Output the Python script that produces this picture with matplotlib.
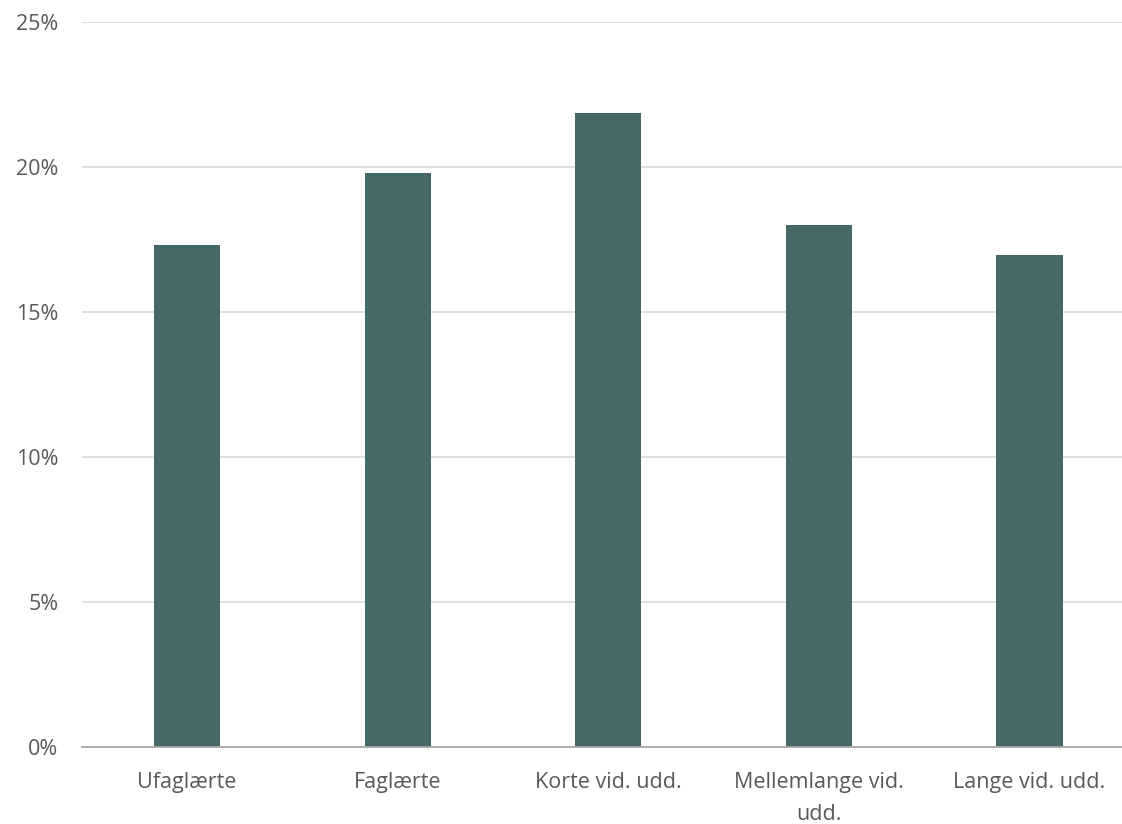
import numpy as np
import matplotlib.pyplot as plt
from matplotlib.ticker import PercentFormatter

plt.rcParams['font.family'] = ['Open Sans', 'DejaVu Sans']

categories = ['Ufaglærte', 'Faglærte', 'Korte vid. udd.', 'Mellemlange vid.\nudd.', 'Lange vid. udd.']
shares = [17.3, 19.8, 21.85, 18.0, 16.95]

bar_color = '#466866'
text_color = '#595959'

fig = plt.figure(figsize=(11.22, 8.24), dpi=100)
ax = fig.add_axes([0.073, 0.0934, 0.927, 0.88])

x = np.arange(len(categories))
ax.bar(x, shares, width=0.315, color=bar_color, zorder=3)

ax.set_ylim(0, 25)
ax.set_xlim(-0.5, 4.44)
ax.set_yticks(np.arange(0, 26, 5))
ax.yaxis.set_major_formatter(PercentFormatter(decimals=0))
ax.set_xticks(x)
ax.set_xticklabels(categories, linespacing=1.7)

ax.grid(axis='y', color='#d9d9d9', linewidth=1.2, zorder=0)
for s in ['top', 'right', 'left']:
    ax.spines[s].set_visible(False)
ax.spines['bottom'].set_color('#a6a6a6')
ax.spines['bottom'].set_linewidth(1.3)
ax.spines['bottom'].set_zorder(4)

ax.tick_params(axis='both', length=0, labelsize=15.5, colors=text_color)
ax.tick_params(axis='y', pad=17)
ax.tick_params(axis='x', pad=18)

fig.savefig('out.png', dpi=100, facecolor='white')
